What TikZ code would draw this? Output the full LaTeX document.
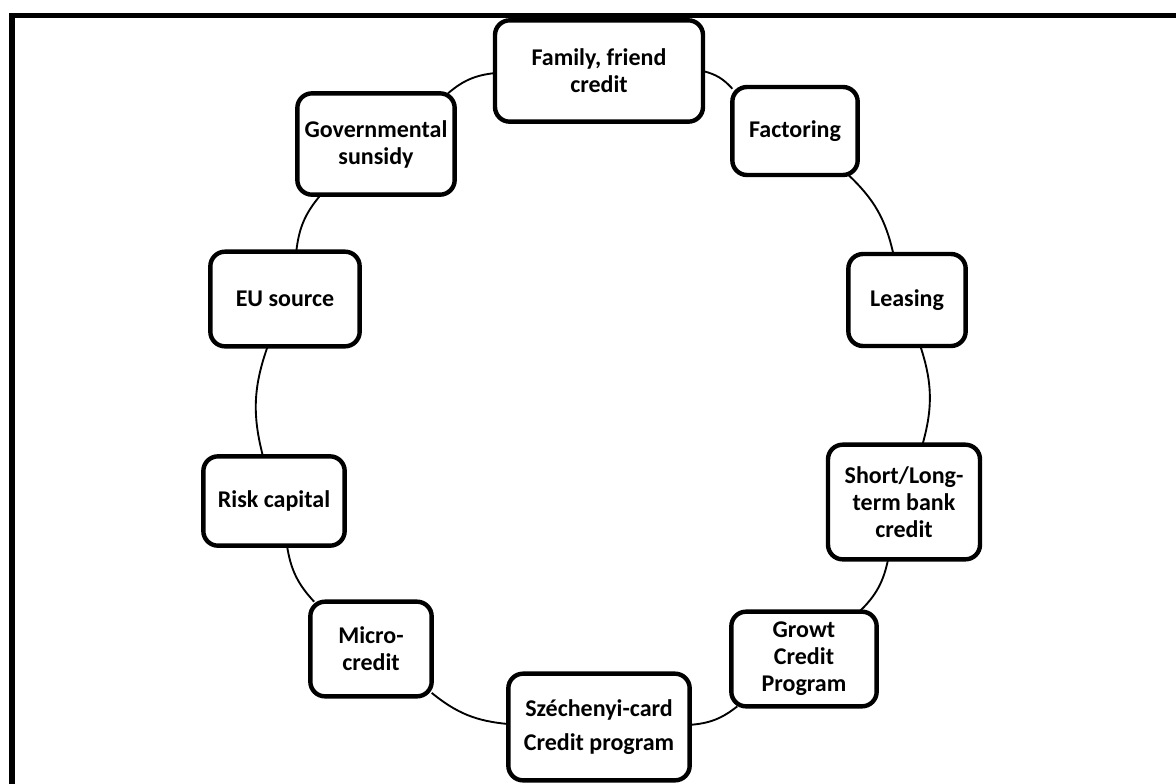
\documentclass[tikz,border=0pt]{standalone}
\usepackage{fontspec}
\setmainfont{Carlito}
\usepackage{tikz}
\usetikzlibrary{positioning}

\begin{document}
\begin{tikzpicture}[%
    x=0.75pt,
    y=-0.75pt,
    font=\bfseries\fontsize{18}{20.3}\selectfont,
    box/.style={draw, line width=3.3pt, rounded corners=11pt, fill=white,
      align=center, inner sep=2pt, outer sep=0pt},
    ring/.style={line width=1.4pt, bend left=17},
  ]
    \useasboundingbox (0,0) rectangle (1176,783);
    \draw[line width=4.2pt] (12,790) -- (12,15.5) -- (1180,15.5);

    \node[box, minimum width=156pt, minimum height=76pt] (fam)   at (599,71)  {Family, friend\\credit};
    \node[box, minimum width=94pt,  minimum height=66pt] (fac)   at (795,131) {Factoring};
    \node[box, minimum width=88pt,  minimum height=69pt] (leas)  at (907,300) {Leasing};
    \node[box, minimum width=114pt, minimum height=86pt] (short) at (904,502) {Short/Long-\\term bank\\credit};
    \node[box, minimum width=109pt, minimum height=71pt] (growt) at (804,659) {Growt\\Credit\\Program};
    \node[box, minimum width=136pt, minimum height=80pt] (szech) at (599,727) {Széchenyi-card\\[5.5pt]Credit program};
    \node[box, minimum width=91pt,  minimum height=71pt] (micro) at (371,649) {Micro-\\credit};
    \node[box, minimum width=106pt, minimum height=67pt] (risk)  at (274,501) {Risk capital};
    \node[box, minimum width=112pt, minimum height=71pt] (eu)    at (285,299) {EU source};
    \node[box, minimum width=118pt, minimum height=76pt] (gov)   at (376,144) {Governmental\\sunsidy};

    \path[ring]
    (fam)   edge (fac)
    (fac)   edge (leas)
    (leas)  edge (short)
    (short) edge (growt)
    (growt) edge (szech)
    (szech) edge (micro)
    (micro) edge (risk)
    (risk)  edge (eu)
    (eu)    edge (gov)
    (gov)   edge (fam)
    ;
  \end{tikzpicture}
\end{document}
